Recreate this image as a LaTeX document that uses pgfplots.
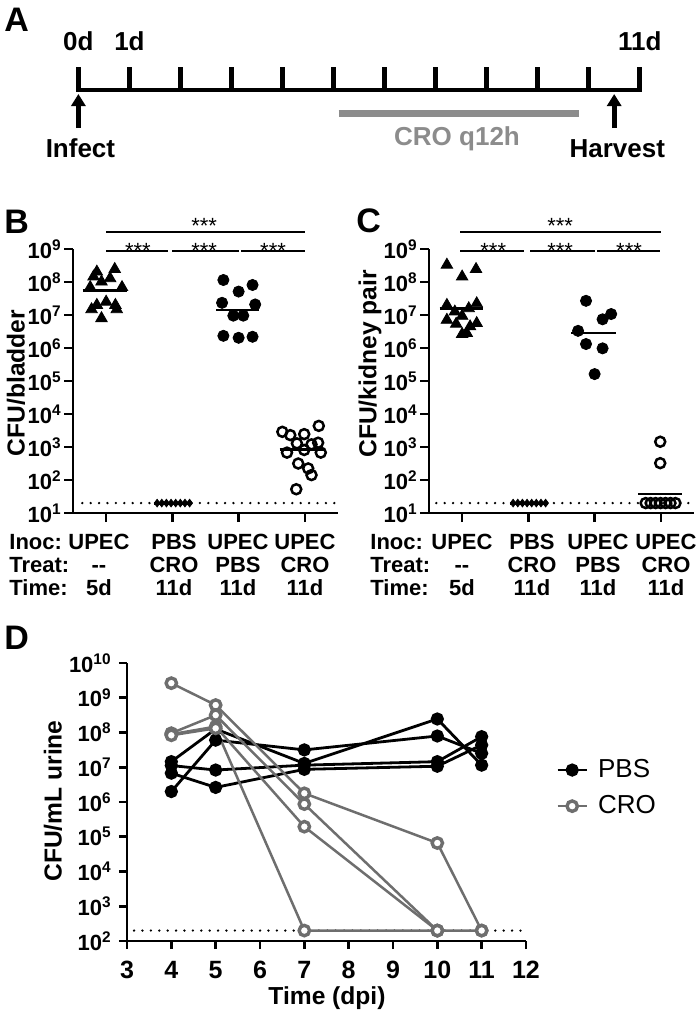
\documentclass[border=0pt]{standalone}
\usepackage{fontspec}
\setmainfont{Liberation Sans}
\usepackage{pgfplots}
\pgfplotsset{compat=1.18}
\usetikzlibrary{arrows.meta}
\definecolor{crogray}{HTML}{6E6E6E}
\definecolor{bargray}{HTML}{8C8C8C}
\newcommand{\tl}[1]{10\textsuperscript{#1}}
\newcommand{\abfont}{\bfseries\fontsize{13bp}{15bp}\selectfont}
\newcommand{\catfont}{\bfseries\fontsize{11bp}{13bp}\selectfont}
\newcommand{\labfont}{\bfseries\fontsize{12.3bp}{14bp}\selectfont}
\newcommand{\letfont}{\bfseries\fontsize{17bp}{19bp}\selectfont}
\newcommand{\starfont}{\fontsize{11bp}{13bp}\selectfont}
\tikzset{starnode/.style={anchor=base, font=\starfont, inner sep=0pt}}
\pgfplotsset{
  panelBC/.style={
    scale only axis, width=132.5bp, height=132bp,
    xmin=0.5, xmax=4.5, ymin=10, ymax=1e9,
    axis lines=left, axis line style={-, line width=1.3bp},
    xtick={1,2,3,4}, xticklabels={},
    ytick={1e1,1e2,1e3,1e4,1e5,1e6,1e7,1e8,1e9},
    yticklabels={\tl{1},\tl{2},\tl{3},\tl{4},\tl{5},\tl{6},\tl{7},\tl{8},\tl{9}},
    yminorticks=false, tick align=outside, major tick length=4.5bp,
    tick style={black, line width=1.3bp},
    yticklabel style={font=\bfseries\fontsize{11bp}{13bp}\selectfont, inner sep=1bp},
    clip=false},
  lod/.style={black, line width=1.3bp, line cap=round, dash pattern=on 0pt off 4.2bp},
  meanl/.style={black, line width=1.3bp},
  sigl/.style={black, line width=0.9bp},
}
\begin{document}
\begin{tikzpicture}
\useasboundingbox (0bp,0bp) rectangle (349.5bp,-506bp);

% ---------------- Panel A ----------------
\begin{axis}[at={(39.2bp,0bp)}, anchor=north west, scale only axis,
  width=280.65bp, height=90bp, xmin=0, xmax=11, ymin=-90, ymax=90,
  hide axis, clip=false]
\addplot[black, line width=2.4bp, line cap=rect] coordinates {(0,0)(11,0)};
\pgfplotsinvokeforeach{0,...,11}{\addplot[black, line width=2.4bp] coordinates {(#1,0)(#1,23)};}
\addplot[black, line width=2.4bp, -{Triangle[width=7bp,length=6bp]}] coordinates {(0,-38)(0,-4)};
\addplot[black, line width=2.4bp, -{Triangle[width=7bp,length=6bp]}] coordinates {(10.5,-38)(10.5,-4)};
\addplot[bargray, line width=3.5bp] coordinates {(5.1,-23)(9.82,-23)};
\node[anchor=base, font=\abfont] at (axis cs:0,40) {0d};
\node[anchor=base, font=\abfont] at (axis cs:1,40) {1d};
\node[anchor=base, font=\abfont] at (axis cs:11,40) {11d};
\node[anchor=base, font=\abfont] at (axis cs:0.04,-67) {Infect};
\node[anchor=base, font=\abfont] at (axis cs:10.56,-67) {Harvest};
\node[anchor=base, font=\abfont, text=bargray] at (axis cs:7.42,-55) {CRO q12h};
\end{axis}

% ---------------- Panel B ----------------
\begin{axis}[ymode=log, panelBC, at={(36.5bp,-256.5bp)}, anchor=south west]
\addplot[lod] coordinates {(0.64,20)(4.45,20)};
\addplot[black, only marks, mark=triangle*, mark size=3.3bp] coordinates {
(0.86,2.04e8)(1.13,2.45e8)(0.81,1.45e8)(1.06,1.29e8)(0.93,1.02e8)(0.76,6.92e7)(1.24,6.92e7)
(1.00,2.51e7)(0.86,2.0e7)(1.14,2.0e7)(0.78,1.48e7)(1.16,1.48e7)(0.93,7.94e6)};
\addplot[meanl] coordinates {(0.65,5.5e7)(1.32,5.5e7)};
\addplot[black, line width=1.5bp] coordinates {(1.72,20)(2.3,20)};
\addplot[black, only marks, mark=diamond*, mark size=1.9bp] coordinates {
(1.77,20)(1.84,20)(1.91,20)(1.98,20)(2.05,20)(2.12,20)(2.19,20)(2.26,20)};
\addplot[black, only marks, mark=*, mark size=2.8bp] coordinates {
(2.77,1.15e8)(3.21,8.13e7)(3.00,5.13e7)(2.75,2.34e7)(3.25,2.09e7)(2.92,9.55e6)(3.07,9.55e6)
(2.77,2.34e6)(3.00,2.04e6)(3.21,2.19e6)};
\addplot[meanl] coordinates {(2.66,1.41e7)(3.31,1.41e7)};
\addplot[black, only marks, mark=o, mark size=2.5bp, mark options={line width=1.25bp}] coordinates {
(3.66,2884)(3.78,2291)(3.99,2455)(4.21,4365)(3.88,1288)(4.10,1202)(4.20,1349)(3.73,676)
(3.99,813)(4.24,676)(3.90,316)(4.05,224)(4.10,141)(3.87,52.5)};
\addplot[meanl] coordinates {(3.62,851)(4.30,851)};
\addplot[sigl] coordinates {(1,3.27e9)(4,3.27e9)};
\addplot[sigl] coordinates {(1,8.7e8)(1.935,8.7e8)};
\addplot[sigl] coordinates {(2,8.7e8)(3,8.7e8)};
\addplot[sigl] coordinates {(3.04,8.7e8)(4,8.7e8)};
\node[starnode] at (axis cs:1.48,4.98e8) {***};
\node[starnode] at (axis cs:2.48,4.98e8) {***};
\node[starnode] at (axis cs:3.52,4.98e8) {***};
\node[starnode] at (axis cs:2.48,2.85e9) {***};
\end{axis}

% ---------------- Panel C ----------------
\begin{axis}[ymode=log, panelBC, at={(214.5bp,-256.5bp)}, anchor=south west]
\addplot[lod] coordinates {(0.61,20)(4.48,20)};
\addplot[black, only marks, mark=triangle*, mark size=3.3bp] coordinates {
(0.77,3.31e8)(1.21,2.45e8)(1.00,1.45e8)(0.77,2.0e7)(1.22,2.24e7)(0.89,1.26e7)(1.10,1.58e7)
(1.00,9.33e6)(0.77,7.08e6)(0.91,5.37e6)(1.22,5.62e6)(1.00,2.63e6)(1.07,2.82e6)(1.12,4.47e6)};
\addplot[meanl] coordinates {(0.66,1.58e7)(1.32,1.58e7)};
\addplot[black, line width=1.5bp] coordinates {(1.72,20)(2.3,20)};
\addplot[black, only marks, mark=diamond*, mark size=1.9bp] coordinates {
(1.77,20)(1.84,20)(1.91,20)(1.98,20)(2.05,20)(2.12,20)(2.19,20)(2.26,20)};
\addplot[black, only marks, mark=*, mark size=2.8bp] coordinates {
(2.87,2.69e7)(3.25,1.07e7)(3.12,7.41e6)(2.75,3.31e6)(2.87,1.32e6)(3.12,9.77e5)(3.00,1.62e5)};
\addplot[meanl] coordinates {(2.65,2.88e6)(3.33,2.88e6)};
\addplot[black, only marks, mark=o, mark size=2.5bp, mark options={line width=1.25bp}] coordinates {
(3.99,1445)(3.99,324)(3.77,20)(3.845,20)(3.92,20)(3.995,20)(4.07,20)(4.145,20)(4.22,20)};
\addplot[meanl] coordinates {(3.66,38)(4.32,38)};
\addplot[sigl] coordinates {(0.97,3.27e9)(4,3.27e9)};
\addplot[sigl] coordinates {(0.97,8.7e8)(1.94,8.7e8)};
\addplot[sigl] coordinates {(2.03,8.7e8)(3,8.7e8)};
\addplot[sigl] coordinates {(3.04,8.7e8)(3.99,8.7e8)};
\node[starnode] at (axis cs:1.47,4.98e8) {***};
\node[starnode] at (axis cs:2.48,4.98e8) {***};
\node[starnode] at (axis cs:3.52,4.98e8) {***};
\node[starnode] at (axis cs:2.48,2.85e9) {***};
\end{axis}

% ---------------- Panel D ----------------
\begin{axis}[ymode=log, at={(63.5bp,-470.5bp)}, anchor=south west, scale only axis,
  width=199.5bp, height=139bp, xmin=3, xmax=12, ymin=1e2, ymax=1e10,
  axis lines=left, axis line style={-, line width=1.4bp},
  xtick={3,4,5,6,7,8,9,10,11,12}, xticklabels={3,4,5,6,7,8,9,10,11,12},
  ytick={1e2,1e3,1e4,1e5,1e6,1e7,1e8,1e9,1e10},
  yticklabels={\tl{2},\tl{3},\tl{4},\tl{5},\tl{6},\tl{7},\tl{8},\tl{9},\tl{10}},
  yminorticks=false, tick align=outside, major tick length=4bp,
  tick style={black, line width=1.4bp},
  xticklabel style={font=\bfseries\fontsize{12.5bp}{14bp}\selectfont, yshift=-2.5bp},
  yticklabel style={font=\bfseries\fontsize{11bp}{13bp}\selectfont, inner sep=1bp, xshift=-2.5bp},
  clip=false,
  legend image code/.code={\draw[mark repeat=2,mark phase=2,#1] plot coordinates {(0bp,0bp)(7.25bp,0bp)(14.5bp,0bp)};},
  legend style={at={(axis description cs:1.075,0.55)}, anchor=west, draw=none, fill=none,
    font=\fontsize{13bp}{15bp}\selectfont, row sep=3.5bp, column sep=3bp, inner sep=0pt},
  legend cell align=left]
\addplot[lod, forget plot] coordinates {(3.16,200)(11.92,200)};
\addplot[black, line width=1.4bp, mark=*, mark size=2.6bp, mark options={solid}] coordinates {(4,2.0e6)(5,6.03e7)(7,3.16e7)(10,7.94e7)(11,2.51e7)};
\addlegendentry{PBS}
\addplot[black, line width=1.4bp, mark=*, mark size=2.6bp, mark options={solid}, forget plot] coordinates {(4,1.45e7)(5,1.26e8)(7,1.29e7)(10,2.45e8)(11,1.15e7)};
\addplot[black, line width=1.4bp, mark=*, mark size=2.6bp, mark options={solid}, forget plot] coordinates {(4,1.12e7)(5,8.32e6)(7,1.15e7)(10,1.45e7)(11,7.59e7)};
\addplot[black, line width=1.4bp, mark=*, mark size=2.6bp, mark options={solid}, forget plot] coordinates {(4,6.76e6)(5,2.63e6)(7,8.71e6)(10,1.07e7)(11,4.37e7)};
\addplot[crogray, line width=1.25bp, mark=*, mark size=2.6bp, mark options={solid, fill=white, draw=crogray, line width=1.7bp}] coordinates {(4,2.63e9)(5,6.17e8)(7,1.78e6)(10,6.61e4)(11,200)};
\addlegendentry{CRO}
\addplot[crogray, line width=1.25bp, mark=*, mark size=2.6bp, mark options={solid, fill=white, draw=crogray, line width=1.7bp}, forget plot] coordinates {(4,9.55e7)(5,3.16e8)(7,8.71e5)(10,200)};
\addplot[crogray, line width=1.25bp, mark=*, mark size=2.6bp, mark options={solid, fill=white, draw=crogray, line width=1.7bp}, forget plot] coordinates {(4,8.91e7)(5,1.48e8)(7,1.95e5)(10,200)};
\addplot[crogray, line width=1.25bp, mark=*, mark size=2.6bp, mark options={solid, fill=white, draw=crogray, line width=1.7bp}, forget plot] coordinates {(4,8.32e7)(5,1.32e8)(7,200)(10,200)(11,200)};
\end{axis}

% ---------------- Text in pixel units ----------------
\begin{scope}[x=0.5bp, y=-0.5bp]
\node[anchor=base west, font=\letfont, inner sep=0pt] at (4,31) {A};
\node[anchor=base west, font=\letfont, inner sep=0pt] at (4,234) {B};
\node[anchor=base west, font=\letfont, inner sep=0pt] at (356,233) {C};
\node[anchor=base west, font=\letfont, inner sep=0pt] at (4,650) {D};
\node[rotate=90, font=\labfont] at (16,383) {CFU/bladder};
\node[rotate=90, font=\labfont] at (370,364) {CFU/kidney pair};
\node[rotate=90, font=\labfont] at (53,801) {CFU/mL urine};
\node[anchor=base, font=\labfont] at (327,1005) {Time (dpi)};
\foreach \lx/\ly/\t in {9/550/Inoc:, 9/573/Treat:, 9/596/Time:, 370/550/Inoc:, 370/573/Treat:, 370/596/Time:}
  {\node[anchor=base west, font=\catfont, inner sep=0pt] at (\lx,\ly) {\t};}
\foreach \cx/\a/\b/\c in {99/UPEC/-{}-/5d, 174/PBS/CRO/11d, 238/UPEC/PBS/11d, 305/UPEC/CRO/11d,
                          462/UPEC/-{}-/5d, 532/PBS/CRO/11d, 598/UPEC/PBS/11d, 666/UPEC/CRO/11d}
  {\node[anchor=base, font=\catfont, inner sep=0pt] at (\cx,550) {\a};
   \node[anchor=base, font=\catfont, inner sep=0pt] at (\cx,573) {\b};
   \node[anchor=base, font=\catfont, inner sep=0pt] at (\cx,596) {\c};}
\end{scope}
\end{tikzpicture}
\end{document}
